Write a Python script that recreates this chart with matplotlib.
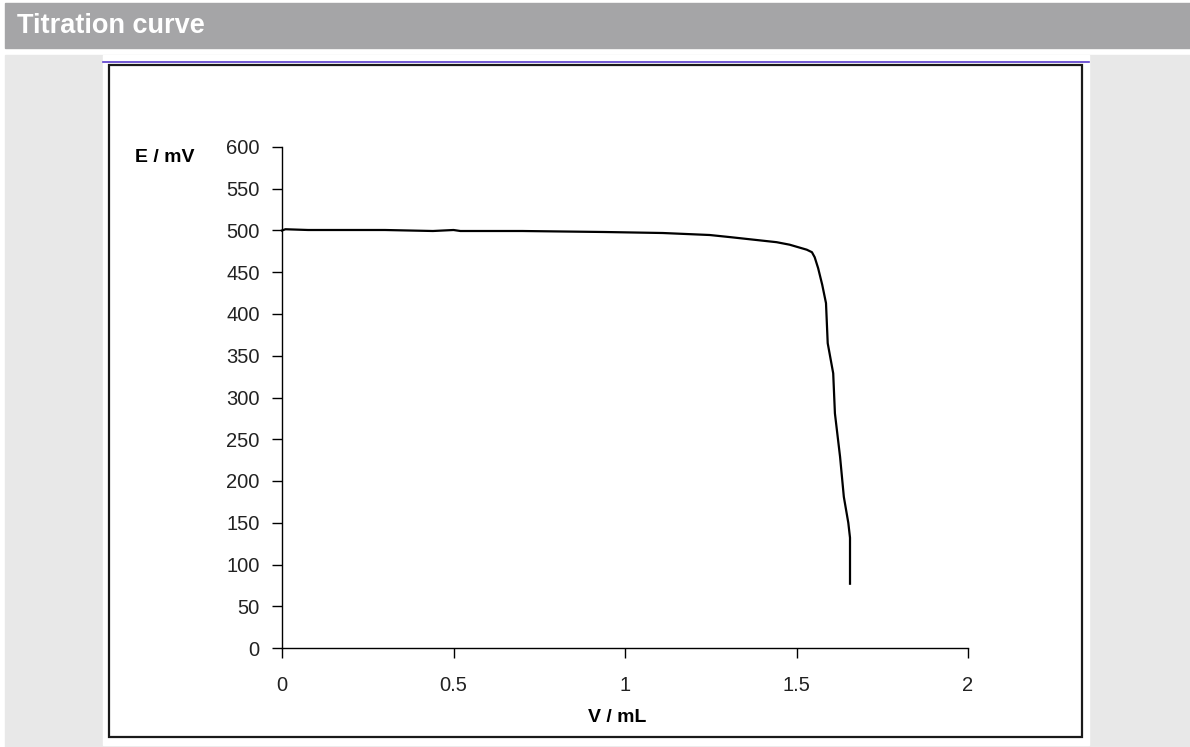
import matplotlib
matplotlib.use("Agg")
import matplotlib.pyplot as plt
from matplotlib.patches import Rectangle
from matplotlib.lines import Line2D

plt.rcParams['font.family'] = ['Liberation Sans', 'DejaVu Sans']

# Data (volume in mL, potential in mV)
volume = [0, 0.01, 0.076, 0.2, 0.3, 0.44, 0.5, 0.52, 0.7, 0.94, 1.11, 1.247,
          1.308, 1.375, 1.442, 1.48, 1.53, 1.545, 1.553, 1.563, 1.575, 1.586,
          1.591, 1.607, 1.612, 1.627, 1.638, 1.651, 1.656, 1.656]
potential = [500, 501.5, 500.6, 500.6, 500.6, 499.4, 500.6, 499.4, 499.4, 498.2,
             497, 494.6, 492, 489, 486, 483, 477, 474, 468, 455, 435, 413,
             365, 329, 281, 229, 181, 150, 132, 77]
x_ticks = [0, 0.5, 1, 1.5, 2]
x_tick_labels = ["0", "0.5", "1", "1.5", "2"]
y_ticks = list(range(0, 601, 50))

title = "Titration curve"
x_label = "V / mL"
y_label = "E / mV"

W, H = 1190, 747
fig = plt.figure(figsize=(W / 100, H / 100), dpi=100)
fig.patch.set_facecolor("white")

def fx(px):
    return px / W

def fy(py):
    return 1 - py / H

# Background panels
fig.patches.append(Rectangle((fx(5), fy(48)), fx(1190 - 5), 45 / H,
                             transform=fig.transFigure, color="#a5a5a7", zorder=-3))
fig.patches.append(Rectangle((fx(5), 0), fx(1190 - 5), fy(55),
                             transform=fig.transFigure, color="#e8e8e8", zorder=-3))
fig.patches.append(Rectangle((fx(103), fy(745)), fx(1089 - 103), (745 - 55) / H,
                             transform=fig.transFigure, color="white", zorder=-2))
fig.lines.append(Line2D([fx(103), fx(1089)], [fy(62), fy(62)],
                        transform=fig.transFigure, color="#5a3ccc", lw=1.2, zorder=-1))
fig.patches.append(Rectangle((fx(109), fy(737)), fx(1082 - 109), (737 - 65) / H,
                             transform=fig.transFigure, fill=False,
                             edgecolor="#1a1a1a", lw=1.6, zorder=-1))

fig.text(fx(17), fy(26), title, color="white", fontsize=19.5, fontweight="bold",
         va="center", ha="left")

ax = fig.add_axes([fx(282), fy(648), fx(968 - 282), (648 - 147) / H])
ax.set_zorder(10)
ax.set_facecolor("none")
ax.plot(volume, potential, color="black", lw=1.6, solid_joinstyle="round",
        clip_on=False)
ax.set_xlim(0, 2)
ax.set_ylim(0, 600)
ax.set_xticks(x_ticks)
ax.set_xticklabels(x_tick_labels)
ax.set_yticks(y_ticks)
for s in ["top", "right"]:
    ax.spines[s].set_visible(False)
for s in ["left", "bottom"]:
    ax.spines[s].set_linewidth(1.0)
    ax.spines[s].set_color("black")
ax.tick_params(axis="both", direction="out", length=7, width=1.0,
               labelsize=14.5, colors="black", labelcolor="#222222")
ax.tick_params(axis="x", pad=13)
ax.tick_params(axis="y", pad=9)

fig.text(fx(165), fy(158), y_label, fontsize=14, fontweight="bold",
         ha="center", va="center")
fig.text(fx(617), fy(717), x_label, fontsize=14, fontweight="bold",
         ha="center", va="center")

fig.savefig("out.png", dpi=100, facecolor=fig.get_facecolor())
